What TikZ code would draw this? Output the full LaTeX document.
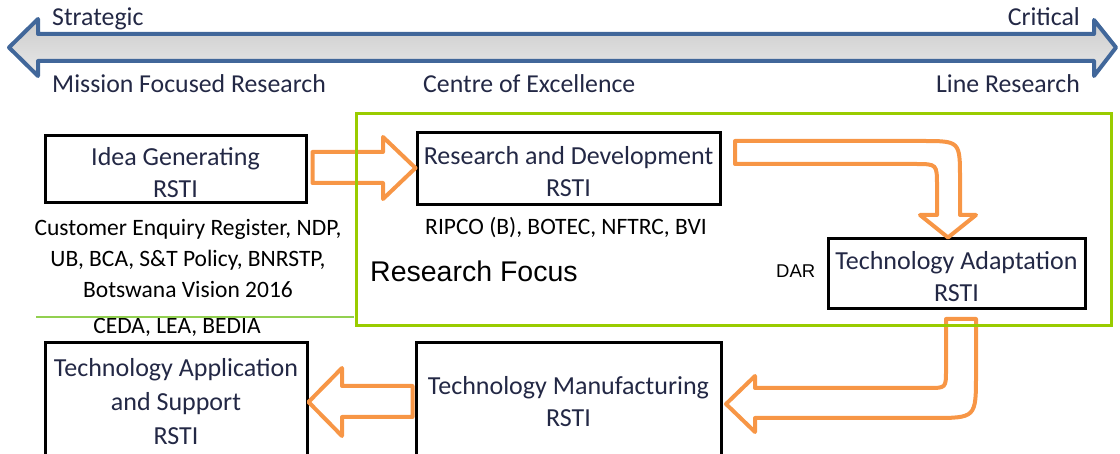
\documentclass[tikz,border=0pt]{standalone}
\usepackage{fontspec}
\setmainfont{Carlito}
\newfontfamily\arialfont{Liberation Sans}
\usetikzlibrary{calc}
\definecolor{navytxt}{HTML}{232845}
\definecolor{blockorange}{HTML}{F79646}
\definecolor{framegreen}{HTML}{99CC00}
\definecolor{linegreen}{HTML}{92D050}
\definecolor{steelblue}{HTML}{41679A}
\tikzset{
  stagebox/.style={draw=black, line width=3pt, fill=white, inner sep=0pt},
  stagetext/.style={align=center, text=navytxt, font=\fontsize{26}{32}\selectfont, inner sep=0pt},
  blockarrow/.style={draw=blockorange, line width=4pt, line join=round},
  toplabel/.style={text=navytxt, font=\fontsize{25.8}{28}\selectfont, inner sep=0pt},
  caption/.style={text=black, font=\fontsize{23.5}{31}\selectfont, align=center, inner sep=0pt},
}
\begin{document}
\begin{tikzpicture}[x=1pt,y=-1pt]
\useasboundingbox (0,0) rectangle (1120,454);
\clip (0,0) rectangle (1120,454);

% top double arrow
\draw[steelblue, line width=4pt, line join=round, top color=gray!40, bottom color=gray!18]
  (9,47.5) -- (38,19) -- (38,34) -- (1094,34) -- (1094,20) -- (1116,47.5)
  -- (1094,76) -- (1094,61) -- (38,61) -- (38,76) -- cycle;

\node[toplabel, anchor=base west] (strat) at (52,26) {Strategic};
\node[toplabel, anchor=base east] (crit) at (1080,26) {Critical};
\node[toplabel, anchor=base west] (mfr) at (52,93) {Mission Focused Research};
\node[toplabel, anchor=base west] (coe) at (423,93) {Centre of Excellence};
\node[toplabel, anchor=base east] (lr) at (1080,93) {Line Research};

% boxes
\node[stagebox, minimum width=261pt, minimum height=67pt] (idea) at (175.5,169.5) {};
\node[stagebox, minimum width=303pt, minimum height=72pt] (rd) at (568.5,169) {};
\node[stagebox, minimum width=257pt, minimum height=70pt] (ta) at (956.5,274) {};
\node[stagebox, minimum width=305pt, minimum height=117pt] (tm) at (568.5,401.5) {};
\node[stagebox, minimum width=262pt, minimum height=120pt] (tap) at (176,403) {};

\node[stagetext] (ideat) at ($(idea.center)+(0,3)$) {Idea Generating\\RSTI};
\node[stagetext] (rdt) at ($(rd.center)+(0,3)$) {Research and Development\\RSTI};
\node[stagetext] (tat) at ($(ta.center)+(0,2.5)$) {Technology Adaptation\\RSTI};
\node[stagetext] (tmt) at ($(tm.center)+(0,0.5)$) {Technology Manufacturing\\RSTI};
\node[stagetext, font=\fontsize{26}{34}\selectfont] (tapt) at ($(tap.center)+(0,-1)$) {Technology Application\\and Support\\RSTI};

% captions
\node[caption] (cust) at (188,259) {Customer Enquiry Register, NDP,\\UB, BCA, S\&T Policy, BNRSTP,\\Botswana Vision 2016};
\node[caption] (ceda) at (177,327) {CEDA, LEA, BEDIA};
\node[caption] (ripco) at (566,228) {RIPCO (B), BOTEC, NFTRC, BVI};
\node[text=black, font=\arialfont\fontsize{28.5}{30}\selectfont, anchor=west, inner sep=0pt] (rf) at (370,271) {Research Focus};
\node[text=black, font=\arialfont\fontsize{18.5}{20}\selectfont, anchor=west, inner sep=0pt] (dar) at (776,271) {DAR};

% orange block arrows
\draw[blockarrow] ($(idea.east)+(5,-17.5)$) -- (383,152) -- (383,137) -- (rd.west |- 0,168)
  -- (383,199) -- (383,183) -- ($(idea.east)+(5,13.5)$) -- cycle;
\draw[blockarrow] (735,164) -- (735,141) -- (922,141) .. controls (960,141) .. (960,179)
  -- (960,215) -- (976,215) -- (ta.north -| 948,0) -- (920,215) -- (937,215)
  -- (937,186) .. controls (937,164) .. (915,164) -- cycle;
\draw[blockarrow] (946,319) -- (976,319) -- (976,374) .. controls (976,418) .. (932,418)
  -- (755,418) -- (755,432) -- (726,404) -- (755,376) -- (755,388) -- (928,388)
  .. controls (946,388) .. (946,370) -- cycle;
\draw[blockarrow] ($(tm.west)+(-2,-15.5)$) -- (342,386) -- (342,368) -- (tap.east |- 0,402)
  -- (342,436) -- (342,417) -- ($(tm.west)+(-2,15.5)$) -- cycle;

% green frame and line
\draw[framegreen, line width=3pt] (356,114) rectangle (1111,326);
\draw[linegreen, line width=1.5pt] (36,317) -- (354,317);
\end{tikzpicture}
\end{document}
